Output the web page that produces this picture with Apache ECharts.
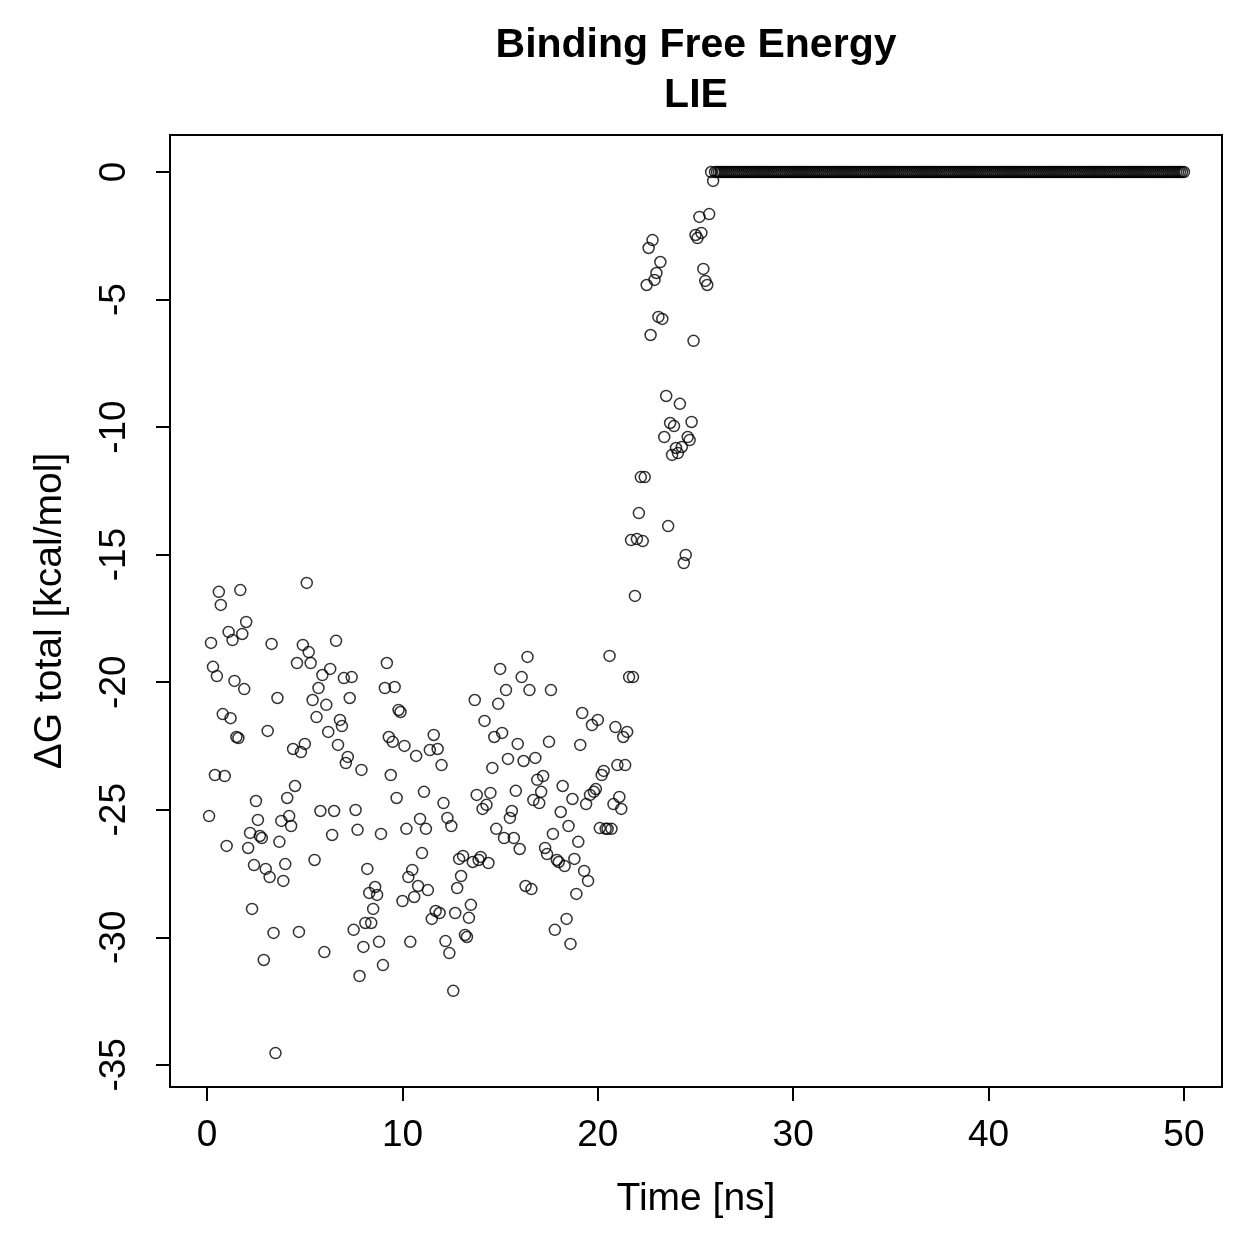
<!DOCTYPE html>
<html>
<head>
<meta charset="utf-8">
<title>Binding Free Energy - LIE</title>
<script src="https://cdn.jsdelivr.net/npm/echarts@6/dist/echarts.min.js"></script>
<style>
  html, body { margin: 0; padding: 0; background: #fff; }
  #chart { width: 1259px; height: 1259px; }
</style>
</head>
<body>
<div id="chart"></div>
<script>
// sampling step of the trajectory [ns]
const timeStep = 0.1;

// ΔG total for t = 0.1, 0.2 ... 26.0 ns
const dgScatter = [
  -25.25, -18.46, -19.40, -23.64, -19.76, -16.46, -16.97, -21.25, -23.68, -26.42,
  -18.03, -21.41, -18.35, -19.95, -22.15, -22.19, -16.39, -18.11, -20.27, -17.64,
  -26.50, -25.91, -28.89, -27.17, -24.66, -25.40, -26.03, -26.11, -30.89, -27.32,
  -21.91, -27.64, -18.50, -29.83, -34.54, -20.62, -26.26, -25.44, -27.79, -27.13,
  -24.54, -25.25, -25.64, -22.62, -24.07, -19.25, -29.79, -22.74,
  -18.54, -22.42, -16.11, -18.82, -19.25, -20.70, -26.97, -21.37, -20.23, -25.05,
  -19.72, -30.58, -20.89, -21.95, -19.48, -25.99, -25.05, -18.38, -22.46, -21.48,
  -21.72, -19.84, -23.17, -22.93, -20.62, -19.80, -29.71, -25.01, -25.79, -31.52,
  -23.44, -30.38, -29.44, -27.32, -28.26, -29.44, -28.89, -28.03, -28.34, -30.18,
  -25.95, -31.09, -20.23, -19.25, -22.15, -23.64, -22.34, -20.19, -24.54, -21.09,
  -21.17,
  -28.58, -22.50, -25.75, -27.64, -30.18, -27.36, -28.42, -22.89, -27.99, -25.36,
  -26.70, -24.30, -25.75, -28.15, -22.66, -29.28, -22.07,
  -28.97, -22.62, -29.05, -23.25, -24.74, -30.15, -25.32, -30.62, -25.64, -32.10,
  -29.05, -28.07, -26.93, -27.60, -26.81, -29.91, -29.99, -29.24, -28.73, -27.05,
  -20.70, -24.42, -26.97, -26.85, -24.97, -21.52, -24.81, -27.09, -24.34, -23.36,
  -22.15, -25.75, -20.85, -19.48,
  -21.99, -26.11, -20.31, -23.01, -25.32, -25.05, -26.11, -24.26, -22.42, -26.54,
  -19.80, -23.09, -27.99, -19.01, -20.31, -28.11, -24.62, -22.97, -23.83, -24.74,
  -24.30, -23.68, -26.50, -26.74, -22.34, -20.31, -25.95, -29.71, -26.97, -27.05,
  -25.09, -24.07, -27.21, -29.28, -25.64, -30.26, -24.58, -26.93, -28.30, -26.26,
  -22.46, -21.21, -27.40, -24.78, -27.79, -24.42, -21.68, -24.30, -24.19, -21.48,
  -25.72,
  -23.64, -23.48, -25.75, -25.75, -18.97, -25.75, -24.78, -21.76, -23.25, -24.50,
  -24.97, -22.15, -23.25, -21.95, -19.80, -14.43, -19.80, -16.62, -14.39, -13.37,
  -11.96, -14.47, -11.96, -4.43, -2.98, -6.39, -2.67, -4.23, -3.96, -5.68,
  -3.53, -5.76, -10.39, -8.78, -13.88, -9.84, -11.09, -9.96, -10.82, -11.02,
  -9.09, -10.78, -15.33,
  -15.01,
  -10.39, -10.51, -9.80, -6.62, -2.47, -2.59, -1.76, -2.39, -3.80, -4.27,
  -4.43, -1.65, 0, -0.35, 0
];

// after ~26 ns the ligand is gone: ΔG stays at 0 up to 50 ns
const plateauStart = 26.1;
const plateauEnd = 50.0;
const plateauValue = 0;

// tick labels
const xTicks = [0, 10, 20, 30, 40, 50];
const yTicks = [0, -5, -10, -15, -20, -25, -30, -35];

// build [time, value] pairs
const points = [];
dgScatter.forEach((v, i) => {
  points.push([+((i + 1) * timeStep).toFixed(1), v]);
});
const nPlateau = Math.round((plateauEnd - plateauStart) / timeStep);
for (let i = 0; i <= nPlateau; i++) {
  points.push([+(plateauStart + i * timeStep).toFixed(1), plateauValue]);
}

const FONT = "'Liberation Sans', Arial, Helvetica, sans-serif";

const chart = echarts.init(document.getElementById('chart'), null, { renderer: 'canvas' });

chart.setOption({
  animation: false,
  backgroundColor: '#fff',
  title: {
    text: 'Binding Free Energy\nLIE',
    left: 696,
    top: 21,
    textAlign: 'center',
    padding: 0,
    textStyle: {
      fontFamily: FONT,
      fontWeight: 'bold',
      fontSize: 41,
      lineHeight: 50,
      color: '#000'
    }
  },
  grid: {
    left: 170,
    right: 37,
    top: 135,
    bottom: 172,
    show: true,
    borderColor: '#000',
    borderWidth: 2,
    backgroundColor: 'transparent'
  },
  xAxis: {
    type: 'value',
    min: -1.9,
    max: 51.95,
    name: 'Time [ns]',
    nameLocation: 'middle',
    nameGap: 93,
    nameTextStyle: { fontFamily: FONT, fontSize: 39, color: '#000' },
    splitLine: { show: false },
    axisLine: { show: false, onZero: false },
    axisTick: {
      show: true,
      length: 14,
      customValues: xTicks,
      lineStyle: { color: '#000', width: 2 }
    },
    axisLabel: {
      customValues: xTicks,
      fontFamily: FONT,
      fontSize: 37,
      color: '#000',
      margin: 30
    }
  },
  yAxis: {
    type: 'value',
    min: -35.87,
    max: 1.45,
    name: 'ΔG total [kcal/mol]',
    nameLocation: 'middle',
    nameRotate: 90,
    nameGap: 100,
    nameTextStyle: { fontFamily: FONT, fontSize: 39, color: '#000' },
    splitLine: { show: false },
    axisLine: { show: false, onZero: false },
    axisTick: {
      show: true,
      length: 14,
      customValues: yTicks,
      lineStyle: { color: '#000', width: 2 }
    },
    axisLabel: {
      customValues: yTicks,
      rotate: 90,
      fontFamily: FONT,
      fontSize: 37,
      color: '#000',
      margin: 37
    }
  },
  series: [{
    type: 'scatter',
    data: points,
    symbol: 'circle',
    symbolSize: 11,
    silent: true,
    itemStyle: {
      color: 'rgba(0,0,0,0)',
      borderColor: '#000',
      borderWidth: 1.5
    }
  }]
});
</script>
</body>
</html>
